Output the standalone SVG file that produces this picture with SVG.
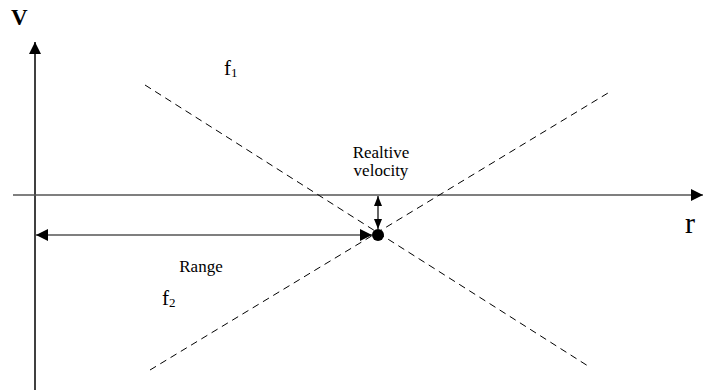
<svg xmlns="http://www.w3.org/2000/svg" width="703" height="391" viewBox="0 0 703 391">
<style>
text{fill:#000}
.small{font-size:17px}
.dash{stroke:#000;stroke-width:1;stroke-dasharray:7,5;fill:none}
</style>
<defs>
<marker id="ah" viewBox="0 0 10 10" refX="10" refY="5" markerWidth="10" markerHeight="10" markerUnits="userSpaceOnUse" orient="auto-start-reverse">
<path d="M0,1 L10,5 L0,9 Z" fill="#000"/>
</marker>
<marker id="ahb" viewBox="0 0 10 10" refX="10" refY="5" markerWidth="15" markerHeight="12" markerUnits="userSpaceOnUse" orient="auto-start-reverse">
<path d="M0,0 L10,5 L0,10 Z" fill="#000"/>
</marker>
</defs>
<g id="connectors">
<line x1="35" y1="390" x2="35" y2="42" stroke="#000" stroke-width="1.5" marker-end="url(#ahb)"/>
<line x1="13" y1="195" x2="703" y2="195" stroke="#555" stroke-width="1.5" marker-end="url(#ahb)"/>
<line class="dash" x1="145" y1="85" x2="588" y2="366"/>
<line class="dash" x1="150" y1="370" x2="608" y2="93"/>
<line x1="36" y1="235" x2="372" y2="235" stroke="#000" stroke-width="1.2" marker-start="url(#ahb)" marker-end="url(#ahb)"/>
<line x1="378" y1="196" x2="378" y2="229" stroke="#000" stroke-width="1.2" marker-start="url(#ah)" marker-end="url(#ah)"/>
</g>
<g id="point"><circle cx="378" cy="235" r="6" fill="#000"/></g>
<g font-family="'Liberation Serif', 'Times New Roman', serif">
<g id="label-v"><text font-size="23" x="11" y="25" font-weight="bold">V</text></g>
<g id="label-r"><text font-size="30" x="685" y="233">r</text></g>
<g id="label-f1"><text font-size="21" x="224" y="75">f<tspan font-size="13" dy="2">1</tspan></text></g>
<g id="label-f2"><text font-size="21" x="162" y="305">f<tspan font-size="13" dy="2">2</tspan></text></g>
<g id="label-rv"><text class="small" x="381" y="158" text-anchor="middle">Realtive</text><text class="small" x="381" y="176" text-anchor="middle">velocity</text></g>
<g id="label-range"><text class="small" x="201" y="272" text-anchor="middle">Range</text></g>
</g>
</svg>
